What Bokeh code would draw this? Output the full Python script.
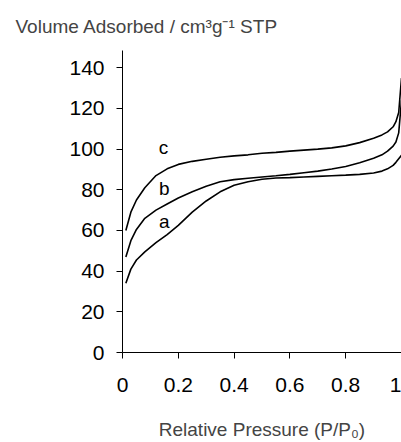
from bokeh.plotting import figure
from bokeh.models import Range1d, FixedTicker, ColumnDataSource
from bokeh.core.properties import value
from bokeh.embed import file_html
from bokeh.resources import INLINE

pressure = [0.012, 0.03, 0.05, 0.08, 0.12, 0.16, 0.2, 0.25, 0.3, 0.35, 0.4, 0.45, 0.5,
            0.55, 0.6, 0.65, 0.7, 0.75, 0.8, 0.85, 0.9, 0.93, 0.95, 0.97, 0.98, 0.99, 1.0]
curve_a = [34, 41, 45.5, 49.5, 54, 58, 62.5, 69, 74.5, 79, 82.2, 84, 85.2,
           85.8, 86, 86.3, 86.6, 86.9, 87.2, 87.6, 88.3, 89.2, 90.3, 92, 93.5, 95.3, 97]
curve_b = [47, 55, 60.5, 66, 70, 73, 76, 79, 81.8, 84, 85, 85.7, 86.3,
           86.9, 87.6, 88.4, 89.2, 90.2, 91.5, 93.3, 95.5, 97.2, 99, 101.5, 103.5, 108, 124]
curve_c = [60, 69, 75, 81, 87, 90.3, 92.5, 94, 95, 96, 96.7, 97.2, 98,
           98.4, 99, 99.5, 100, 100.6, 101.6, 103.2, 105.3, 107, 108.5, 111, 113.5, 118, 135]
curve_names = ["a", "b", "c"]
label_x = [0.15, 0.15, 0.147]
label_y = [64.2, 80.7, 101]
x_ticks = [0, 0.2, 0.4, 0.6, 0.8, 1.0]
x_tick_labels = {0: "0", 0.2: "0.2", 0.4: "0.4", 0.6: "0.6", 0.8: "0.8", 1.0: "1"}
y_ticks = [0, 20, 40, 60, 80, 100, 120, 140]
title_text = "Volume Adsorbed / cm³g⁻¹ STP"

FONT = "Liberation Sans"

p = figure(width=401, height=442, output_backend="svg", toolbar_location=None,
           x_range=Range1d(0, 1.0), y_range=Range1d(0, 148.5),
           min_border_left=122, min_border_right=0, min_border_top=50, min_border_bottom=87)
p.outline_line_color = None
p.grid.visible = False
p.background_fill_color = "white"
p.border_fill_color = "white"

p.title.text = title_text
p.title.text_font = FONT
p.title.text_font_size = "19px"
p.title.text_font_style = "normal"
p.title.align = "left"
p.title.offset = -107
p.title.standoff = 27

for ys in (curve_a, curve_b, curve_c):
    p.line(pressure, ys, line_color="black", line_width=1.6)

src = ColumnDataSource(dict(x=label_x, y=label_y, t=curve_names))
p.text(x="x", y="y", text="t", source=src, text_font=value(FONT), text_font_size="19px",
       text_align="center", text_baseline="middle", text_color="black")

xa = p.xaxis[0]
xa.ticker = FixedTicker(ticks=x_ticks)
xa.major_label_overrides = x_tick_labels
xa.axis_label = "Relative Pressure (P/P₀)"
ya = p.yaxis[0]
ya.ticker = FixedTicker(ticks=y_ticks)

for ax in (xa, ya):
    ax.axis_line_color = "black"
    ax.axis_line_width = 1
    ax.major_tick_line_color = "black"
    ax.major_tick_out = 6
    ax.major_tick_in = 0
    ax.minor_tick_line_color = None
    ax.major_label_text_font = FONT
    ax.major_label_text_font_size = "21px"
    ax.major_label_text_color = "black"
    ax.axis_label_text_font = FONT
    ax.axis_label_text_font_size = "19px"
    ax.axis_label_text_font_style = "normal"

xa.major_label_standoff = 19
xa.axis_label_standoff = 24
ya.major_label_standoff = 12

open("out.html", "w").write(file_html(p, INLINE))
